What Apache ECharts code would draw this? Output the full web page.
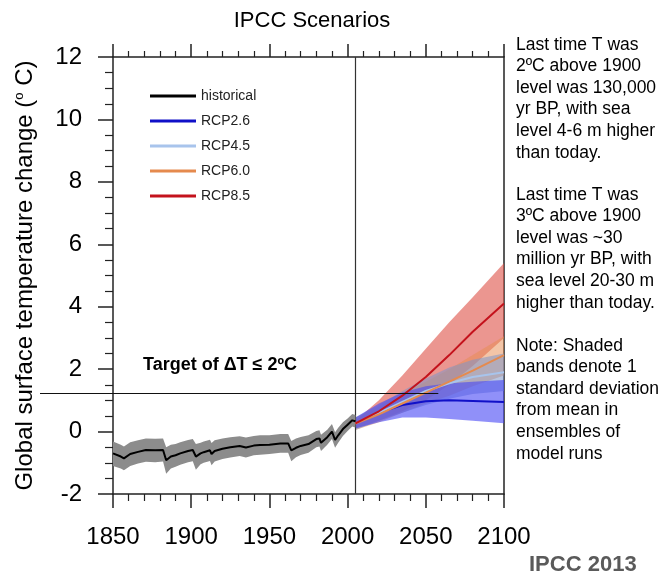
<!DOCTYPE html>
<html>
<head>
<meta charset="utf-8">
<script src="https://cdn.jsdelivr.net/npm/echarts@6/dist/echarts.min.js"></script>
<style>
  html, body { margin: 0; padding: 0; background: #fff; }
  #main { width: 669px; height: 579px; }
</style>
</head>
<body>
<div id="main"></div>
<script>
var FONT = "'Liberation Sans', Arial, Helvetica, sans-serif";

// historical run (mean and shaded band)
var histYears = [1850, 1855, 1857, 1861, 1866, 1871, 1877, 1882, 1884, 1887, 1890, 1893, 1898, 1901, 1903, 1906, 1908, 1912, 1913, 1915,
                 1920, 1925, 1931, 1935, 1940, 1944, 1950, 1957, 1962, 1964, 1967, 1970, 1975, 1980, 1982, 1983, 1987, 1990, 1992, 1994,
                 1997, 2000, 2003, 2005];
var histMean = [-0.70, -0.80, -0.86, -0.72, -0.65, -0.59, -0.60, -0.59, -0.92, -0.80, -0.76, -0.70, -0.62, -0.59, -0.80, -0.70, -0.66, -0.60, -0.72, -0.62,
                -0.55, -0.50, -0.46, -0.51, -0.45, -0.43, -0.42, -0.38, -0.38, -0.60, -0.52, -0.46, -0.40, -0.24, -0.22, -0.36, -0.18, 0.00, -0.27, -0.12,
                0.08, 0.22, 0.36, 0.33];
var histLow  = [-1.10, -1.18, -1.24, -1.10, -1.02, -0.97, -0.98, -0.96, -1.35, -1.18, -1.13, -1.06, -0.98, -0.95, -1.22, -1.05, -1.00, -0.94, -1.08, -0.96,
                -0.88, -0.83, -0.78, -0.83, -0.76, -0.74, -0.72, -0.68, -0.68, -0.95, -0.82, -0.75, -0.68, -0.50, -0.48, -0.62, -0.42, -0.24, -0.52, -0.36,
                -0.14, 0.02, 0.16, 0.13];
var histHigh = [-0.32, -0.42, -0.48, -0.34, -0.28, -0.22, -0.23, -0.22, -0.50, -0.42, -0.40, -0.34, -0.27, -0.24, -0.40, -0.36, -0.32, -0.26, -0.37, -0.28,
                -0.22, -0.18, -0.15, -0.19, -0.14, -0.12, -0.12, -0.08, -0.08, -0.30, -0.22, -0.17, -0.12, 0.02, 0.04, -0.10, 0.06, 0.24, -0.02, 0.12,
                0.30, 0.42, 0.56, 0.53];

// projections
var projYears = [2005, 2020, 2035, 2050, 2065, 2080, 2100];
var rcp26Mean = [0.26, 0.60, 0.85, 0.97, 1.00, 0.98, 0.95];
var rcp26Low  = [0.10, 0.30, 0.45, 0.45, 0.40, 0.35, 0.27];
var rcp26High = [0.45, 0.90, 1.25, 1.45, 1.55, 1.60, 1.65];
var rcp45Mean = [0.26, 0.60, 0.95, 1.30, 1.55, 1.75, 1.90];
var rcp45Low  = [0.05, 0.35, 0.60, 0.85, 1.05, 1.20, 1.30];
var rcp45High = [0.45, 0.85, 1.30, 1.70, 2.05, 2.30, 2.50];
var rcp60Mean = [0.26, 0.55, 0.90, 1.25, 1.60, 1.95, 2.45];
var rcp60Low  = [0.05, 0.30, 0.60, 0.90, 1.15, 1.45, 1.80];
var rcp60High = [0.45, 0.80, 1.20, 1.60, 2.00, 2.45, 3.05];
var rcp85Mean = [0.26, 0.65, 1.15, 1.75, 2.45, 3.20, 4.10];
var rcp85Low  = [0.10, 0.35, 0.65, 1.00, 1.50, 2.10, 3.00];
var rcp85High = [0.35, 1.00, 1.80, 2.65, 3.50, 4.30, 5.40];

var targetLevel = 1.22;
var targetEndYear = 2058;
var splitYear = 2005;

var note1 = ['Last time T was', '2\u00baC above 1900', 'level was 130,000', 'yr BP, with sea', 'level 4-6 m higher', 'than today.'];
var note2 = ['Last time T was', '3\u00baC above 1900', 'level was ~30', 'million yr BP, with', 'sea level 20-30 m', 'higher than today.'];
var note3 = ['Note: Shaded', 'bands denote 1', 'standard deviation', 'from mean in', 'ensembles of', 'model runs'];

function pairs(xs, ys) {
    return xs.map(function (x, i) { return [x, ys[i]]; });
}

// shaded band as a polygon through the axis scales
function band(name, xs, low, high, fill, z) {
    return {
        type: 'custom',
        id: name,
        silent: true,
        z: z,
        data: [[xs[0], low[0]]],
        renderItem: function (params, api) {
            var pts = [];
            for (var i = 0; i < xs.length; i++) pts.push(api.coord([xs[i], high[i]]));
            for (var j = xs.length - 1; j >= 0; j--) pts.push(api.coord([xs[j], low[j]]));
            return { type: 'polygon', shape: { points: pts }, style: { fill: fill } };
        }
    };
}

function line(name, xs, ys, color, z) {
    return {
        name: name,
        type: 'line',
        data: pairs(xs, ys),
        showSymbol: false,
        symbol: 'none',
        color: color,
        lineStyle: { color: color, width: 2 },
        z: z
    };
}

var axisLineStyle = { color: '#222', width: 1.5 };

var myChart = echarts.init(document.getElementById('main'));

var histLine = line('historical', histYears, histMean, '#000', 10);
histLine.markLine = {
    silent: true,
    symbol: ['none', 'none'],
    label: { show: false },
    lineStyle: { color: '#333', width: 1.2, type: 'solid' },
    data: [{ xAxis: splitYear }]
};

myChart.setOption({
    animation: false,
    backgroundColor: '#fff',
    textStyle: { fontFamily: FONT },
    title: {
        text: 'IPCC Scenarios',
        left: 307,
        top: 5,
        textAlign: 'center',
        textStyle: { fontSize: 22, fontWeight: 'normal', color: '#000', fontFamily: FONT }
    },
    legend: {
        data: ['historical', 'RCP2.6', 'RCP4.5', 'RCP6.0', 'RCP8.5'],
        orient: 'vertical',
        left: 145,
        top: 83,
        icon: 'rect',
        itemWidth: 46,
        itemHeight: 3,
        itemGap: 9,
        selectedMode: false,
        textStyle: { fontSize: 14, color: '#222', lineHeight: 16, fontFamily: FONT }
    },
    grid: { left: 113, right: 165, top: 57, bottom: 85 },
    xAxis: [{
        type: 'value',
        min: 1850,
        max: 2100,
        interval: 50,
        position: 'bottom',
        splitLine: { show: false },
        axisLine: { onZero: false, lineStyle: axisLineStyle },
        axisTick: { length: 14, lineStyle: axisLineStyle },
        minorTick: { show: true, splitNumber: 5, length: 7, lineStyle: { color: '#222', width: 1.2 } },
        axisLabel: {
            fontSize: 24, color: '#000', margin: 31, fontFamily: FONT,
            formatter: function (v) { return String(v); }
        }
    }, {
        type: 'value',
        min: 1850,
        max: 2100,
        interval: 50,
        position: 'top',
        splitLine: { show: false },
        axisLine: { onZero: false, lineStyle: axisLineStyle },
        axisTick: { length: 13, lineStyle: axisLineStyle },
        minorTick: { show: true, splitNumber: 5, length: 6, lineStyle: { color: '#222', width: 1.2 } },
        axisLabel: { show: false }
    }],
    yAxis: [{
        type: 'value',
        min: -2,
        max: 12,
        interval: 2,
        position: 'left',
        splitLine: { show: false },
        axisLine: { onZero: false, lineStyle: axisLineStyle },
        axisTick: { length: 15, lineStyle: axisLineStyle },
        minorTick: { show: true, splitNumber: 4, length: 8, lineStyle: { color: '#222', width: 1.2 } },
        axisLabel: { fontSize: 24, color: '#000', margin: 31, fontFamily: FONT },
        name: '{t|Global surface temperature change (}{s|o}{t| C)}',
        nameLocation: 'middle',
        nameRotate: 90,
        nameGap: 76,
        nameTextStyle: {
            rich: {
                t: { fontSize: 24, color: '#000', fontFamily: FONT },
                s: { fontSize: 13, color: '#000', fontFamily: FONT, verticalAlign: 'top', padding: [0, 0, 8, 0] }
            }
        }
    }, {
        type: 'value',
        min: -2,
        max: 12,
        interval: 2,
        position: 'right',
        splitLine: { show: false },
        axisLine: { show: true, onZero: false, lineStyle: axisLineStyle },
        axisTick: { show: false },
        axisLabel: { show: false }
    }],
    series: [
        band('b85', projYears, rcp85Low, rcp85High, 'rgba(222, 80, 70, 0.6)', 1),
        band('b60', projYears, rcp60Low, rcp60High, 'rgba(232, 140, 80, 0.5)', 2),
        band('b45', projYears, rcp45Low, rcp45High, 'rgba(125, 150, 200, 0.55)', 3),
        band('b26', projYears, rcp26Low, rcp26High, 'rgba(70, 70, 245, 0.6)', 4),
        band('bh', histYears, histLow, histHigh, '#8c8c8c', 5),
        histLine,
        line('RCP2.6', projYears, rcp26Mean, '#1010c8', 11),
        line('RCP4.5', projYears, rcp45Mean, '#a8c4ec', 12),
        line('RCP6.0', projYears, rcp60Mean, '#e58a4e', 13),
        line('RCP8.5', projYears, rcp85Mean, '#c4121c', 14)
    ]
});

// annotations
var tEnd = myChart.convertToPixel({ xAxisIndex: 0, yAxisIndex: 0 }, [targetEndYear, targetLevel]);
var noteStyle = { fontSize: 17.5, lineHeight: 21.6, fill: '#000', fontFamily: FONT };

myChart.setOption({
    graphic: [{
        type: 'line',
        z: 50,
        shape: { x1: 40, y1: tEnd[1], x2: tEnd[0], y2: tEnd[1] },
        style: { stroke: '#111', lineWidth: 1.2 }
    }, {
        type: 'text',
        z: 50,
        left: 143,
        top: tEnd[1] - 37,
        style: { text: 'Target of \u0394T \u2264 2\u00baC', fontSize: 18, fontWeight: 'bold', fill: '#000', fontFamily: FONT }
    }, {
        type: 'text', left: 516, top: 34,
        style: Object.assign({ text: note1.join('\n') }, noteStyle)
    }, {
        type: 'text', left: 516, top: 184,
        style: Object.assign({ text: note2.join('\n') }, noteStyle)
    }, {
        type: 'text', left: 516, top: 335,
        style: Object.assign({ text: note3.join('\n') }, noteStyle)
    }, {
        type: 'text', left: 529, top: 554,
        style: { text: 'IPCC 2013', fontSize: 22, fontWeight: 'bold', fill: '#5a5a5a', fontFamily: FONT }
    }]
});
</script>
</body>
</html>
